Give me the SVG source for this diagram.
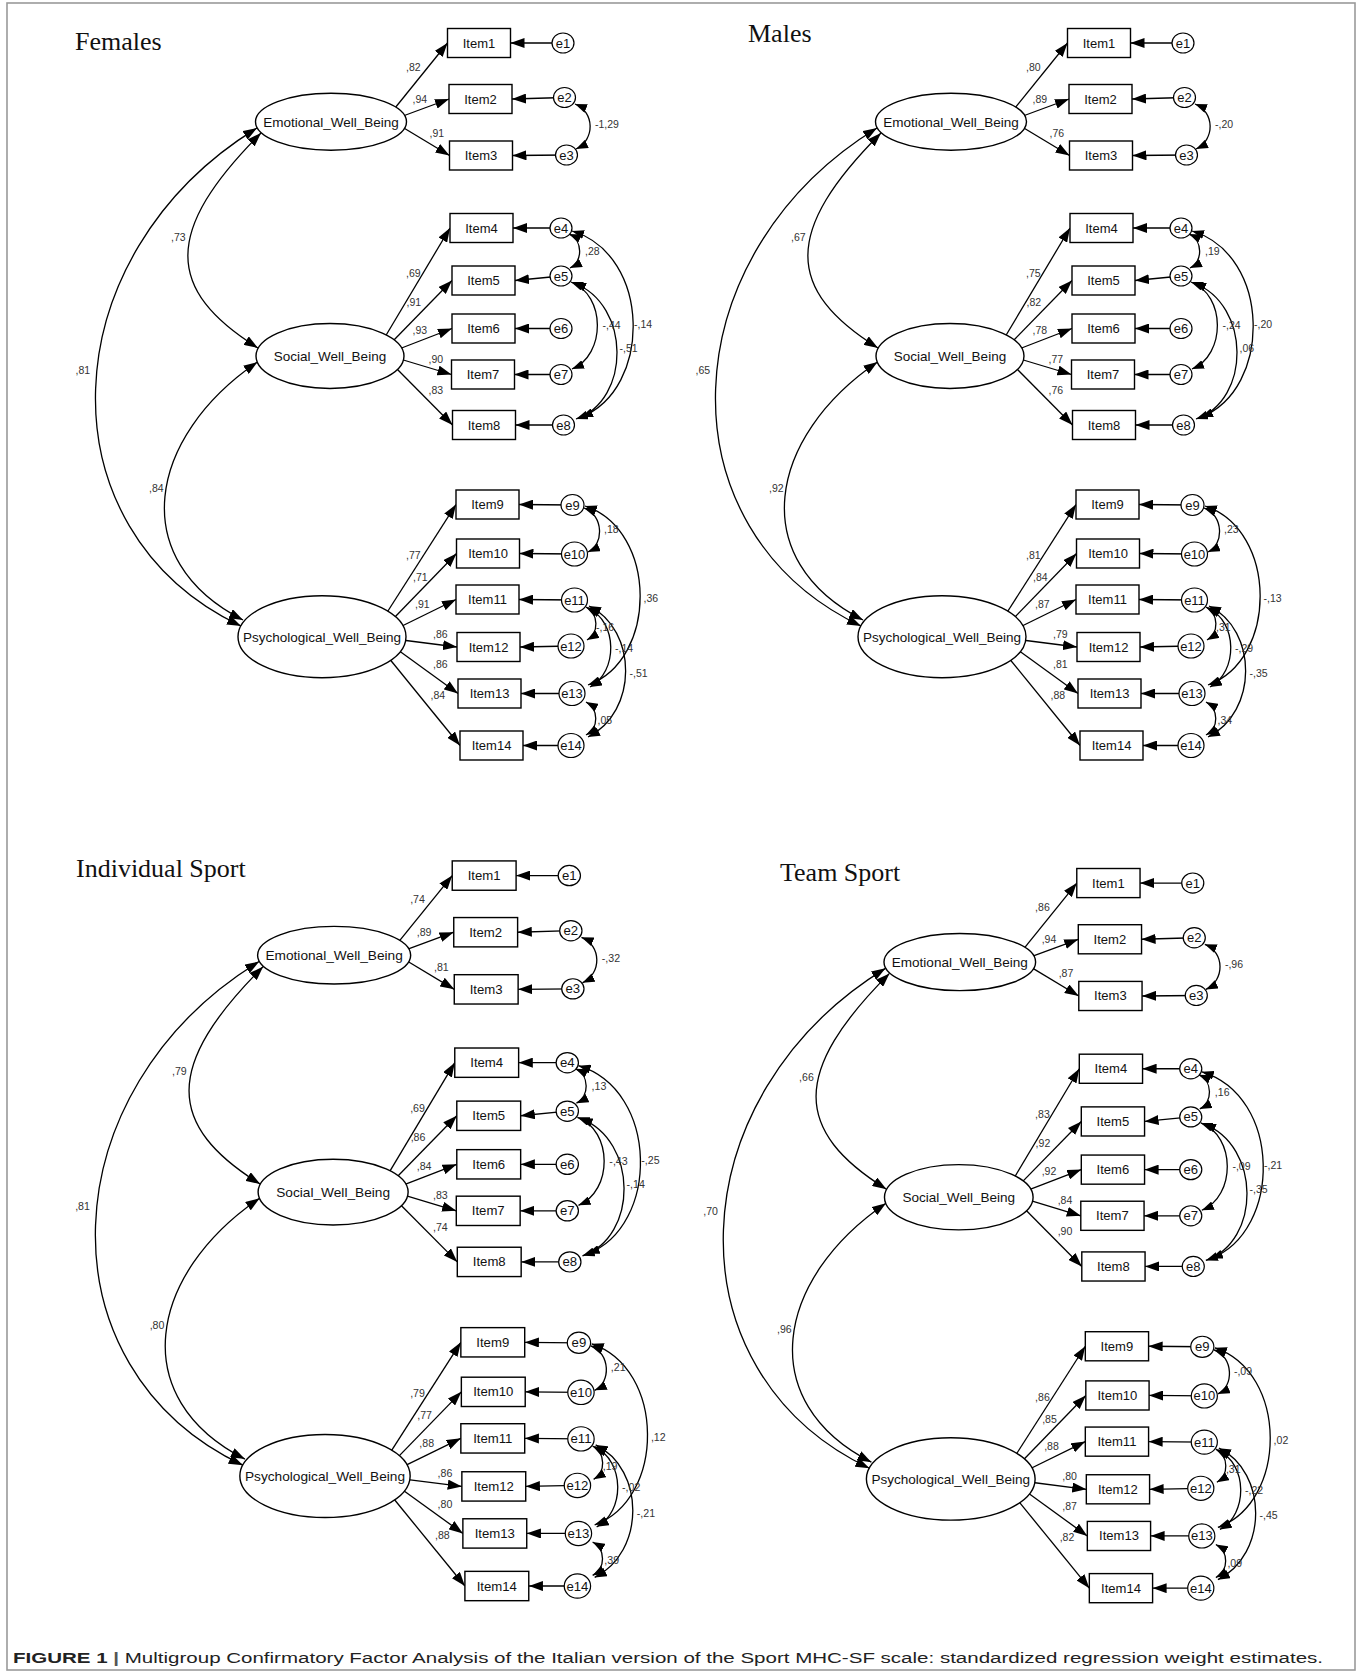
<svg xmlns="http://www.w3.org/2000/svg" width="1363" height="1673" viewBox="0 0 1363 1673">
<defs>
<marker id="ah" viewBox="0 0 14 10" refX="14" refY="5" markerWidth="14" markerHeight="10" markerUnits="userSpaceOnUse" orient="auto-start-reverse"><path d="M0,0 L14,5 L0,10 z" fill="#000"/></marker>
<marker id="ahs" viewBox="0 0 12 9" refX="12" refY="4.5" markerWidth="12" markerHeight="9" markerUnits="userSpaceOnUse" orient="auto-start-reverse"><path d="M0,0 L12,4.5 L0,9 z" fill="#000"/></marker>
</defs>
<style>
.frame{fill:none;stroke:#9a9a9a;stroke-width:1.6}
.title{font-family:"Liberation Serif","Times New Roman",serif;font-size:26px;fill:#111}
.box{fill:#fff;stroke:#000;stroke-width:1.4}
.lat{fill:#fff;stroke:#000;stroke-width:1.4}
.err{fill:#fff;stroke:#000;stroke-width:1.2}
.nt{font-family:"Liberation Sans",Arial,sans-serif;font-size:13px;text-anchor:middle;fill:#111}
.lt{font-family:"Liberation Sans",Arial,sans-serif;font-size:13.5px;text-anchor:middle;fill:#111}
.w{font-family:"Liberation Sans",Arial,sans-serif;font-size:10.5px;fill:#333}
.ld{fill:none;stroke:#000;stroke-width:1.3;marker-end:url(#ah)}
.cv{fill:none;stroke:#000;stroke-width:1.3;marker-start:url(#ah);marker-end:url(#ah)}
.cvs{fill:none;stroke:#000;stroke-width:1.3;marker-start:url(#ahs);marker-end:url(#ahs)}
.cap{font-family:"Liberation Sans",Arial,sans-serif;font-size:14px;fill:#222}
</style>
<rect width="1363" height="1673" fill="#fff"/>
<rect class="frame" x="7" y="3" width="1348" height="1667"/>

<text class="title" x="75" y="50">Females</text>
<text class="title" x="748" y="42">Males</text>
<text class="title" x="76" y="877">Individual Sport</text>
<text class="title" x="780" y="881">Team Sport</text>

<!-- ================= FEMALES ================= -->
<g id="panel-females">
<g id="f-connectors">
<line class="ld" x1="395" y1="108" x2="447.5" y2="43"/>
<line class="ld" x1="403" y1="116" x2="449" y2="99"/>
<line class="ld" x1="403" y1="127.5" x2="449.5" y2="155.5"/>
<line class="ld" x1="385" y1="337" x2="450" y2="228"/>
<line class="ld" x1="392" y1="342" x2="452" y2="280.5"/>
<line class="ld" x1="399" y1="349" x2="452" y2="328.5"/>
<line class="ld" x1="400" y1="359" x2="451.5" y2="374.5"/>
<line class="ld" x1="395" y1="367" x2="452.5" y2="425"/>
<line class="ld" x1="386" y1="614" x2="456" y2="504.5"/>
<line class="ld" x1="393" y1="619" x2="456.5" y2="553.5"/>
<line class="ld" x1="400" y1="627" x2="456" y2="599.5"/>
<line class="ld" x1="402" y1="640" x2="457" y2="647"/>
<line class="ld" x1="398" y1="650" x2="458" y2="693.5"/>
<line class="ld" x1="388" y1="657" x2="460" y2="745.5"/>
<line class="ld" x1="563" y1="43" x2="510.5" y2="43"/>
<line class="ld" x1="564.5" y1="97.5" x2="512" y2="99"/>
<line class="ld" x1="566.5" y1="155" x2="512.5" y2="155.5"/>
<line class="ld" x1="561" y1="228" x2="513" y2="228"/>
<line class="ld" x1="561" y1="276" x2="515" y2="280.5"/>
<line class="ld" x1="561" y1="328.5" x2="515" y2="328.5"/>
<line class="ld" x1="561" y1="374.5" x2="514.5" y2="374.5"/>
<line class="ld" x1="563.5" y1="425" x2="515.5" y2="425"/>
<line class="ld" x1="572.5" y1="505" x2="519" y2="504.5"/>
<line class="ld" x1="574.5" y1="554" x2="519.5" y2="553.5"/>
<line class="ld" x1="574.5" y1="600" x2="519" y2="599.5"/>
<line class="ld" x1="571" y1="646" x2="520" y2="647"/>
<line class="ld" x1="572" y1="693.5" x2="521" y2="693.5"/>
<line class="ld" x1="571" y1="745.5" x2="523" y2="745.5"/>
<path class="cv" d="M257,128C50,255 39,530 241,626"/>
<path class="cv" d="M261,133C163,231 165,290 258,348"/>
<path class="cv" d="M257.5,362C147.5,437 125.5,560 243,620"/>
<path class="cvs" d="M575,104C595,112 595,140 576,149"/>
<path class="cvs" d="M569,234C583,240 583,262 570,268"/>
<path class="cvs" d="M571,282C606,295 606,355 572,369"/>
<path class="cvs" d="M574,283C631,305 631,400 576,419"/>
<path class="cvs" d="M572,231C652,255 652,390 581,417"/>
<path class="cvs" d="M584,508C604,515 604,545 588,552"/>
<path class="cvs" d="M585,506C658,530 658,660 588,685"/>
<path class="cvs" d="M586,607C599,614 599,633 587,640"/>
<path class="cvs" d="M588,608C618,622 618,672 590,687"/>
<path class="cvs" d="M589,606C638,630 638,712 588,737"/>
<path class="cvs" d="M586,702C599,709 599,728 586,735"/>
</g>
<g id="f-emotional"><ellipse class="lat" cx="331" cy="121.7" rx="75.5" ry="28.5"/><text class="lt" x="331" y="126.5">Emotional_Well_Being</text></g>
<g id="f-social"><ellipse class="lat" cx="330" cy="356" rx="74" ry="32.5"/><text class="lt" x="330" y="361">Social_Well_Being</text></g>
<g id="f-psychological"><ellipse class="lat" cx="322" cy="636.7" rx="84" ry="41"/><text class="lt" x="322" y="641.5">Psychological_Well_Being</text></g>
<g id="f-item1"><rect class="box" x="447.5" y="28.5" width="63" height="29"/><text class="nt" x="479" y="47.5">Item1</text></g>
<g id="f-item2"><rect class="box" x="449" y="84.5" width="63" height="29"/><text class="nt" x="480.5" y="103.5">Item2</text></g>
<g id="f-item3"><rect class="box" x="449.5" y="141" width="63" height="29"/><text class="nt" x="481" y="160">Item3</text></g>
<g id="f-item4"><rect class="box" x="450" y="213.5" width="63" height="29"/><text class="nt" x="481.5" y="232.5">Item4</text></g>
<g id="f-item5"><rect class="box" x="452" y="266" width="63" height="29"/><text class="nt" x="483.5" y="285">Item5</text></g>
<g id="f-item6"><rect class="box" x="452" y="314" width="63" height="29"/><text class="nt" x="483.5" y="333">Item6</text></g>
<g id="f-item7"><rect class="box" x="451.5" y="360" width="63" height="29"/><text class="nt" x="483" y="379">Item7</text></g>
<g id="f-item8"><rect class="box" x="452.5" y="410.5" width="63" height="29"/><text class="nt" x="484" y="429.5">Item8</text></g>
<g id="f-item9"><rect class="box" x="456" y="490" width="63" height="29"/><text class="nt" x="487.5" y="509">Item9</text></g>
<g id="f-item10"><rect class="box" x="456.5" y="539" width="63" height="29"/><text class="nt" x="488" y="558">Item10</text></g>
<g id="f-item11"><rect class="box" x="456" y="585" width="63" height="29"/><text class="nt" x="487.5" y="604">Item11</text></g>
<g id="f-item12"><rect class="box" x="457" y="632.5" width="63" height="29"/><text class="nt" x="488.5" y="651.5">Item12</text></g>
<g id="f-item13"><rect class="box" x="458" y="679" width="63" height="29"/><text class="nt" x="489.5" y="698">Item13</text></g>
<g id="f-item14"><rect class="box" x="460" y="731" width="63" height="29"/><text class="nt" x="491.5" y="750">Item14</text></g>
<g id="f-e1"><ellipse class="err" cx="563" cy="43" rx="11" ry="10"/><text class="nt" x="563" y="47.5">e1</text></g>
<g id="f-e2"><ellipse class="err" cx="564.5" cy="97.5" rx="11" ry="10"/><text class="nt" x="564.5" y="102">e2</text></g>
<g id="f-e3"><ellipse class="err" cx="566.5" cy="155" rx="11" ry="10"/><text class="nt" x="566.5" y="159.5">e3</text></g>
<g id="f-e4"><ellipse class="err" cx="561" cy="228" rx="11" ry="10"/><text class="nt" x="561" y="232.5">e4</text></g>
<g id="f-e5"><ellipse class="err" cx="561" cy="276" rx="11" ry="10"/><text class="nt" x="561" y="280.5">e5</text></g>
<g id="f-e6"><ellipse class="err" cx="561" cy="328.5" rx="11" ry="10"/><text class="nt" x="561" y="333">e6</text></g>
<g id="f-e7"><ellipse class="err" cx="561" cy="374.5" rx="11" ry="10"/><text class="nt" x="561" y="379">e7</text></g>
<g id="f-e8"><ellipse class="err" cx="563.5" cy="425" rx="11" ry="10"/><text class="nt" x="563.5" y="429.5">e8</text></g>
<g id="f-e9"><ellipse class="err" cx="572.5" cy="505" rx="11.5" ry="10.5"/><text class="nt" x="572.5" y="509.5">e9</text></g>
<g id="f-e10"><ellipse class="err" cx="574.5" cy="554" rx="13" ry="12"/><text class="nt" x="574.5" y="558.5">e10</text></g>
<g id="f-e11"><ellipse class="err" cx="574.5" cy="600" rx="13" ry="12"/><text class="nt" x="574.5" y="604.5">e11</text></g>
<g id="f-e12"><ellipse class="err" cx="571" cy="646" rx="13" ry="12"/><text class="nt" x="571" y="650.5">e12</text></g>
<g id="f-e13"><ellipse class="err" cx="572" cy="693.5" rx="13" ry="12"/><text class="nt" x="572" y="698">e13</text></g>
<g id="f-e14"><ellipse class="err" cx="571" cy="745.5" rx="13" ry="12"/><text class="nt" x="571" y="750">e14</text></g>
<g id="f-labels">
<text class="w" x="406" y="70.5">,82</text><text class="w" x="412.5" y="103">,94</text><text class="w" x="429.5" y="137">,91</text>
<text class="w" x="406" y="277">,69</text><text class="w" x="406.5" y="305.5">,91</text><text class="w" x="412.5" y="334">,93</text><text class="w" x="428.5" y="363">,90</text><text class="w" x="428.5" y="394">,83</text>
<text class="w" x="406" y="559">,77</text><text class="w" x="413" y="580.5">,71</text><text class="w" x="415" y="608">,91</text><text class="w" x="433" y="638">,86</text><text class="w" x="433" y="668">,86</text><text class="w" x="430.5" y="699">,84</text>
<text class="w" x="75.5" y="374">,81</text><text class="w" x="171" y="240.5">,73</text><text class="w" x="149" y="491.5">,84</text>
<text class="w" x="595" y="128">-1,29</text><text class="w" x="585" y="255">,28</text><text class="w" x="602.5" y="329">-,44</text><text class="w" x="619.5" y="352">-,51</text><text class="w" x="634" y="328">-,14</text>
<text class="w" x="604" y="533">,18</text><text class="w" x="643.5" y="602">,36</text><text class="w" x="596" y="630.5">-,16</text><text class="w" x="615" y="652">-,14</text><text class="w" x="629.5" y="677">-,51</text><text class="w" x="597.5" y="724">,05</text>
</g>
</g>

<!-- ================= MALES ================= -->
<g id="panel-males" transform="translate(620,0)">
<g id="m-connectors">
<line class="ld" x1="395" y1="108" x2="447.5" y2="43"/>
<line class="ld" x1="403" y1="116" x2="449" y2="99"/>
<line class="ld" x1="403" y1="127.5" x2="449.5" y2="155.5"/>
<line class="ld" x1="385" y1="337" x2="450" y2="228"/>
<line class="ld" x1="392" y1="342" x2="452" y2="280.5"/>
<line class="ld" x1="399" y1="349" x2="452" y2="328.5"/>
<line class="ld" x1="400" y1="359" x2="451.5" y2="374.5"/>
<line class="ld" x1="395" y1="367" x2="452.5" y2="425"/>
<line class="ld" x1="386" y1="614" x2="456" y2="504.5"/>
<line class="ld" x1="393" y1="619" x2="456.5" y2="553.5"/>
<line class="ld" x1="400" y1="627" x2="456" y2="599.5"/>
<line class="ld" x1="402" y1="640" x2="457" y2="647"/>
<line class="ld" x1="398" y1="650" x2="458" y2="693.5"/>
<line class="ld" x1="388" y1="657" x2="460" y2="745.5"/>
<line class="ld" x1="563" y1="43" x2="510.5" y2="43"/>
<line class="ld" x1="564.5" y1="97.5" x2="512" y2="99"/>
<line class="ld" x1="566.5" y1="155" x2="512.5" y2="155.5"/>
<line class="ld" x1="561" y1="228" x2="513" y2="228"/>
<line class="ld" x1="561" y1="276" x2="515" y2="280.5"/>
<line class="ld" x1="561" y1="328.5" x2="515" y2="328.5"/>
<line class="ld" x1="561" y1="374.5" x2="514.5" y2="374.5"/>
<line class="ld" x1="563.5" y1="425" x2="515.5" y2="425"/>
<line class="ld" x1="572.5" y1="505" x2="519" y2="504.5"/>
<line class="ld" x1="574.5" y1="554" x2="519.5" y2="553.5"/>
<line class="ld" x1="574.5" y1="600" x2="519" y2="599.5"/>
<line class="ld" x1="571" y1="646" x2="520" y2="647"/>
<line class="ld" x1="572" y1="693.5" x2="521" y2="693.5"/>
<line class="ld" x1="571" y1="745.5" x2="523" y2="745.5"/>
<path class="cv" d="M257,128C50,255 39,530 241,626"/>
<path class="cv" d="M261,133C163,231 165,290 258,348"/>
<path class="cv" d="M257.5,362C147.5,437 125.5,560 243,620"/>
<path class="cvs" d="M575,104C595,112 595,140 576,149"/>
<path class="cvs" d="M569,234C583,240 583,262 570,268"/>
<path class="cvs" d="M571,282C606,295 606,355 572,369"/>
<path class="cvs" d="M574,283C631,305 631,400 576,419"/>
<path class="cvs" d="M572,231C652,255 652,390 581,417"/>
<path class="cvs" d="M584,508C604,515 604,545 588,552"/>
<path class="cvs" d="M585,506C658,530 658,660 588,685"/>
<path class="cvs" d="M586,607C599,614 599,633 587,640"/>
<path class="cvs" d="M588,608C618,622 618,672 590,687"/>
<path class="cvs" d="M589,606C638,630 638,712 588,737"/>
<path class="cvs" d="M586,702C599,709 599,728 586,735"/>
</g>
<g id="m-emotional"><ellipse class="lat" cx="331" cy="121.7" rx="75.5" ry="28.5"/><text class="lt" x="331" y="126.5">Emotional_Well_Being</text></g>
<g id="m-social"><ellipse class="lat" cx="330" cy="356" rx="74" ry="32.5"/><text class="lt" x="330" y="361">Social_Well_Being</text></g>
<g id="m-psychological"><ellipse class="lat" cx="322" cy="636.7" rx="84" ry="41"/><text class="lt" x="322" y="641.5">Psychological_Well_Being</text></g>
<g id="m-item1"><rect class="box" x="447.5" y="28.5" width="63" height="29"/><text class="nt" x="479" y="47.5">Item1</text></g>
<g id="m-item2"><rect class="box" x="449" y="84.5" width="63" height="29"/><text class="nt" x="480.5" y="103.5">Item2</text></g>
<g id="m-item3"><rect class="box" x="449.5" y="141" width="63" height="29"/><text class="nt" x="481" y="160">Item3</text></g>
<g id="m-item4"><rect class="box" x="450" y="213.5" width="63" height="29"/><text class="nt" x="481.5" y="232.5">Item4</text></g>
<g id="m-item5"><rect class="box" x="452" y="266" width="63" height="29"/><text class="nt" x="483.5" y="285">Item5</text></g>
<g id="m-item6"><rect class="box" x="452" y="314" width="63" height="29"/><text class="nt" x="483.5" y="333">Item6</text></g>
<g id="m-item7"><rect class="box" x="451.5" y="360" width="63" height="29"/><text class="nt" x="483" y="379">Item7</text></g>
<g id="m-item8"><rect class="box" x="452.5" y="410.5" width="63" height="29"/><text class="nt" x="484" y="429.5">Item8</text></g>
<g id="m-item9"><rect class="box" x="456" y="490" width="63" height="29"/><text class="nt" x="487.5" y="509">Item9</text></g>
<g id="m-item10"><rect class="box" x="456.5" y="539" width="63" height="29"/><text class="nt" x="488" y="558">Item10</text></g>
<g id="m-item11"><rect class="box" x="456" y="585" width="63" height="29"/><text class="nt" x="487.5" y="604">Item11</text></g>
<g id="m-item12"><rect class="box" x="457" y="632.5" width="63" height="29"/><text class="nt" x="488.5" y="651.5">Item12</text></g>
<g id="m-item13"><rect class="box" x="458" y="679" width="63" height="29"/><text class="nt" x="489.5" y="698">Item13</text></g>
<g id="m-item14"><rect class="box" x="460" y="731" width="63" height="29"/><text class="nt" x="491.5" y="750">Item14</text></g>
<g id="m-e1"><ellipse class="err" cx="563" cy="43" rx="11" ry="10"/><text class="nt" x="563" y="47.5">e1</text></g>
<g id="m-e2"><ellipse class="err" cx="564.5" cy="97.5" rx="11" ry="10"/><text class="nt" x="564.5" y="102">e2</text></g>
<g id="m-e3"><ellipse class="err" cx="566.5" cy="155" rx="11" ry="10"/><text class="nt" x="566.5" y="159.5">e3</text></g>
<g id="m-e4"><ellipse class="err" cx="561" cy="228" rx="11" ry="10"/><text class="nt" x="561" y="232.5">e4</text></g>
<g id="m-e5"><ellipse class="err" cx="561" cy="276" rx="11" ry="10"/><text class="nt" x="561" y="280.5">e5</text></g>
<g id="m-e6"><ellipse class="err" cx="561" cy="328.5" rx="11" ry="10"/><text class="nt" x="561" y="333">e6</text></g>
<g id="m-e7"><ellipse class="err" cx="561" cy="374.5" rx="11" ry="10"/><text class="nt" x="561" y="379">e7</text></g>
<g id="m-e8"><ellipse class="err" cx="563.5" cy="425" rx="11" ry="10"/><text class="nt" x="563.5" y="429.5">e8</text></g>
<g id="m-e9"><ellipse class="err" cx="572.5" cy="505" rx="11.5" ry="10.5"/><text class="nt" x="572.5" y="509.5">e9</text></g>
<g id="m-e10"><ellipse class="err" cx="574.5" cy="554" rx="13" ry="12"/><text class="nt" x="574.5" y="558.5">e10</text></g>
<g id="m-e11"><ellipse class="err" cx="574.5" cy="600" rx="13" ry="12"/><text class="nt" x="574.5" y="604.5">e11</text></g>
<g id="m-e12"><ellipse class="err" cx="571" cy="646" rx="13" ry="12"/><text class="nt" x="571" y="650.5">e12</text></g>
<g id="m-e13"><ellipse class="err" cx="572" cy="693.5" rx="13" ry="12"/><text class="nt" x="572" y="698">e13</text></g>
<g id="m-e14"><ellipse class="err" cx="571" cy="745.5" rx="13" ry="12"/><text class="nt" x="571" y="750">e14</text></g>
<g id="m-labels">
<text class="w" x="406" y="70.5">,80</text><text class="w" x="412.5" y="103">,89</text><text class="w" x="429.5" y="137">,76</text>
<text class="w" x="406" y="277">,75</text><text class="w" x="406.5" y="305.5">,82</text><text class="w" x="412.5" y="334">,78</text><text class="w" x="428.5" y="363">,77</text><text class="w" x="428.5" y="394">,76</text>
<text class="w" x="406" y="559">,81</text><text class="w" x="413" y="580.5">,84</text><text class="w" x="415" y="608">,87</text><text class="w" x="433" y="638">,79</text><text class="w" x="433" y="668">,81</text><text class="w" x="430.5" y="699">,88</text>
<text class="w" x="75.5" y="374">,65</text><text class="w" x="171" y="240.5">,67</text><text class="w" x="149" y="491.5">,92</text>
<text class="w" x="595" y="128">-,20</text><text class="w" x="585" y="255">,19</text><text class="w" x="602.5" y="329">-,24</text><text class="w" x="619.5" y="352">,06</text><text class="w" x="634" y="328">-,20</text>
<text class="w" x="604" y="533">,23</text><text class="w" x="643.5" y="602">-,13</text><text class="w" x="596" y="630.5">,31</text><text class="w" x="615" y="652">-,29</text><text class="w" x="629.5" y="677">-,35</text><text class="w" x="597.5" y="724">,34</text>
</g>
</g>

<!-- ================= INDIVIDUAL SPORT ================= -->
<g id="panel-individual" transform="translate(-1.4,832.1) scale(1.0137,1.0113)">
<g id="i-connectors">
<line class="ld" x1="395" y1="108" x2="447.5" y2="43"/>
<line class="ld" x1="403" y1="116" x2="449" y2="99"/>
<line class="ld" x1="403" y1="127.5" x2="449.5" y2="155.5"/>
<line class="ld" x1="385" y1="337" x2="450" y2="228"/>
<line class="ld" x1="392" y1="342" x2="452" y2="280.5"/>
<line class="ld" x1="399" y1="349" x2="452" y2="328.5"/>
<line class="ld" x1="400" y1="359" x2="451.5" y2="374.5"/>
<line class="ld" x1="395" y1="367" x2="452.5" y2="425"/>
<line class="ld" x1="386" y1="614" x2="456" y2="504.5"/>
<line class="ld" x1="393" y1="619" x2="456.5" y2="553.5"/>
<line class="ld" x1="400" y1="627" x2="456" y2="599.5"/>
<line class="ld" x1="402" y1="640" x2="457" y2="647"/>
<line class="ld" x1="398" y1="650" x2="458" y2="693.5"/>
<line class="ld" x1="388" y1="657" x2="460" y2="745.5"/>
<line class="ld" x1="563" y1="43" x2="510.5" y2="43"/>
<line class="ld" x1="564.5" y1="97.5" x2="512" y2="99"/>
<line class="ld" x1="566.5" y1="155" x2="512.5" y2="155.5"/>
<line class="ld" x1="561" y1="228" x2="513" y2="228"/>
<line class="ld" x1="561" y1="276" x2="515" y2="280.5"/>
<line class="ld" x1="561" y1="328.5" x2="515" y2="328.5"/>
<line class="ld" x1="561" y1="374.5" x2="514.5" y2="374.5"/>
<line class="ld" x1="563.5" y1="425" x2="515.5" y2="425"/>
<line class="ld" x1="572.5" y1="505" x2="519" y2="504.5"/>
<line class="ld" x1="574.5" y1="554" x2="519.5" y2="553.5"/>
<line class="ld" x1="574.5" y1="600" x2="519" y2="599.5"/>
<line class="ld" x1="571" y1="646" x2="520" y2="647"/>
<line class="ld" x1="572" y1="693.5" x2="521" y2="693.5"/>
<line class="ld" x1="571" y1="745.5" x2="523" y2="745.5"/>
<path class="cv" d="M257,128C50,255 39,530 241,626"/>
<path class="cv" d="M261,133C163,231 165,290 258,348"/>
<path class="cv" d="M257.5,362C147.5,437 125.5,560 243,620"/>
<path class="cvs" d="M575,104C595,112 595,140 576,149"/>
<path class="cvs" d="M569,234C583,240 583,262 570,268"/>
<path class="cvs" d="M571,282C606,295 606,355 572,369"/>
<path class="cvs" d="M574,283C631,305 631,400 576,419"/>
<path class="cvs" d="M572,231C652,255 652,390 581,417"/>
<path class="cvs" d="M584,508C604,515 604,545 588,552"/>
<path class="cvs" d="M585,506C658,530 658,660 588,685"/>
<path class="cvs" d="M586,607C599,614 599,633 587,640"/>
<path class="cvs" d="M588,608C618,622 618,672 590,687"/>
<path class="cvs" d="M589,606C638,630 638,712 588,737"/>
<path class="cvs" d="M586,702C599,709 599,728 586,735"/>
</g>
<g id="i-emotional"><ellipse class="lat" cx="331" cy="121.7" rx="75.5" ry="28.5"/><text class="lt" x="331" y="126.5">Emotional_Well_Being</text></g>
<g id="i-social"><ellipse class="lat" cx="330" cy="356" rx="74" ry="32.5"/><text class="lt" x="330" y="361">Social_Well_Being</text></g>
<g id="i-psychological"><ellipse class="lat" cx="322" cy="636.7" rx="84" ry="41"/><text class="lt" x="322" y="641.5">Psychological_Well_Being</text></g>
<g id="i-item1"><rect class="box" x="447.5" y="28.5" width="63" height="29"/><text class="nt" x="479" y="47.5">Item1</text></g>
<g id="i-item2"><rect class="box" x="449" y="84.5" width="63" height="29"/><text class="nt" x="480.5" y="103.5">Item2</text></g>
<g id="i-item3"><rect class="box" x="449.5" y="141" width="63" height="29"/><text class="nt" x="481" y="160">Item3</text></g>
<g id="i-item4"><rect class="box" x="450" y="213.5" width="63" height="29"/><text class="nt" x="481.5" y="232.5">Item4</text></g>
<g id="i-item5"><rect class="box" x="452" y="266" width="63" height="29"/><text class="nt" x="483.5" y="285">Item5</text></g>
<g id="i-item6"><rect class="box" x="452" y="314" width="63" height="29"/><text class="nt" x="483.5" y="333">Item6</text></g>
<g id="i-item7"><rect class="box" x="451.5" y="360" width="63" height="29"/><text class="nt" x="483" y="379">Item7</text></g>
<g id="i-item8"><rect class="box" x="452.5" y="410.5" width="63" height="29"/><text class="nt" x="484" y="429.5">Item8</text></g>
<g id="i-item9"><rect class="box" x="456" y="490" width="63" height="29"/><text class="nt" x="487.5" y="509">Item9</text></g>
<g id="i-item10"><rect class="box" x="456.5" y="539" width="63" height="29"/><text class="nt" x="488" y="558">Item10</text></g>
<g id="i-item11"><rect class="box" x="456" y="585" width="63" height="29"/><text class="nt" x="487.5" y="604">Item11</text></g>
<g id="i-item12"><rect class="box" x="457" y="632.5" width="63" height="29"/><text class="nt" x="488.5" y="651.5">Item12</text></g>
<g id="i-item13"><rect class="box" x="458" y="679" width="63" height="29"/><text class="nt" x="489.5" y="698">Item13</text></g>
<g id="i-item14"><rect class="box" x="460" y="731" width="63" height="29"/><text class="nt" x="491.5" y="750">Item14</text></g>
<g id="i-e1"><ellipse class="err" cx="563" cy="43" rx="11" ry="10"/><text class="nt" x="563" y="47.5">e1</text></g>
<g id="i-e2"><ellipse class="err" cx="564.5" cy="97.5" rx="11" ry="10"/><text class="nt" x="564.5" y="102">e2</text></g>
<g id="i-e3"><ellipse class="err" cx="566.5" cy="155" rx="11" ry="10"/><text class="nt" x="566.5" y="159.5">e3</text></g>
<g id="i-e4"><ellipse class="err" cx="561" cy="228" rx="11" ry="10"/><text class="nt" x="561" y="232.5">e4</text></g>
<g id="i-e5"><ellipse class="err" cx="561" cy="276" rx="11" ry="10"/><text class="nt" x="561" y="280.5">e5</text></g>
<g id="i-e6"><ellipse class="err" cx="561" cy="328.5" rx="11" ry="10"/><text class="nt" x="561" y="333">e6</text></g>
<g id="i-e7"><ellipse class="err" cx="561" cy="374.5" rx="11" ry="10"/><text class="nt" x="561" y="379">e7</text></g>
<g id="i-e8"><ellipse class="err" cx="563.5" cy="425" rx="11" ry="10"/><text class="nt" x="563.5" y="429.5">e8</text></g>
<g id="i-e9"><ellipse class="err" cx="572.5" cy="505" rx="11.5" ry="10.5"/><text class="nt" x="572.5" y="509.5">e9</text></g>
<g id="i-e10"><ellipse class="err" cx="574.5" cy="554" rx="13" ry="12"/><text class="nt" x="574.5" y="558.5">e10</text></g>
<g id="i-e11"><ellipse class="err" cx="574.5" cy="600" rx="13" ry="12"/><text class="nt" x="574.5" y="604.5">e11</text></g>
<g id="i-e12"><ellipse class="err" cx="571" cy="646" rx="13" ry="12"/><text class="nt" x="571" y="650.5">e12</text></g>
<g id="i-e13"><ellipse class="err" cx="572" cy="693.5" rx="13" ry="12"/><text class="nt" x="572" y="698">e13</text></g>
<g id="i-e14"><ellipse class="err" cx="571" cy="745.5" rx="13" ry="12"/><text class="nt" x="571" y="750">e14</text></g>
<g id="i-labels">
<text class="w" x="406" y="70.5">,74</text><text class="w" x="412.5" y="103">,89</text><text class="w" x="429.5" y="137">,81</text>
<text class="w" x="406" y="277">,69</text><text class="w" x="406.5" y="305.5">,86</text><text class="w" x="412.5" y="334">,84</text><text class="w" x="428.5" y="363">,83</text><text class="w" x="428.5" y="394">,74</text>
<text class="w" x="406" y="559">,79</text><text class="w" x="413" y="580.5">,77</text><text class="w" x="415" y="608">,88</text><text class="w" x="433" y="638">,86</text><text class="w" x="433" y="668">,80</text><text class="w" x="430.5" y="699">,88</text>
<text class="w" x="75.5" y="374">,81</text><text class="w" x="171" y="240.5">,79</text><text class="w" x="149" y="491.5">,80</text>
<text class="w" x="595" y="128">-,32</text><text class="w" x="585" y="255">,13</text><text class="w" x="602.5" y="329">-,43</text><text class="w" x="619.5" y="352">-,14</text><text class="w" x="634" y="328">-,25</text>
<text class="w" x="604" y="533">,21</text><text class="w" x="643.5" y="602">,12</text><text class="w" x="596" y="630.5">,19</text><text class="w" x="615" y="652">-,02</text><text class="w" x="629.5" y="677">-,21</text><text class="w" x="597.5" y="724">,39</text>
</g>
</g>

<!-- ================= TEAM SPORT ================= -->
<g id="panel-team" transform="translate(627.4,839.9) scale(1.0042,1.0037)">
<g id="t-connectors">
<line class="ld" x1="395" y1="108" x2="447.5" y2="43"/>
<line class="ld" x1="403" y1="116" x2="449" y2="99"/>
<line class="ld" x1="403" y1="127.5" x2="449.5" y2="155.5"/>
<line class="ld" x1="385" y1="337" x2="450" y2="228"/>
<line class="ld" x1="392" y1="342" x2="452" y2="280.5"/>
<line class="ld" x1="399" y1="349" x2="452" y2="328.5"/>
<line class="ld" x1="400" y1="359" x2="451.5" y2="374.5"/>
<line class="ld" x1="395" y1="367" x2="452.5" y2="425"/>
<line class="ld" x1="386" y1="614" x2="456" y2="504.5"/>
<line class="ld" x1="393" y1="619" x2="456.5" y2="553.5"/>
<line class="ld" x1="400" y1="627" x2="456" y2="599.5"/>
<line class="ld" x1="402" y1="640" x2="457" y2="647"/>
<line class="ld" x1="398" y1="650" x2="458" y2="693.5"/>
<line class="ld" x1="388" y1="657" x2="460" y2="745.5"/>
<line class="ld" x1="563" y1="43" x2="510.5" y2="43"/>
<line class="ld" x1="564.5" y1="97.5" x2="512" y2="99"/>
<line class="ld" x1="566.5" y1="155" x2="512.5" y2="155.5"/>
<line class="ld" x1="561" y1="228" x2="513" y2="228"/>
<line class="ld" x1="561" y1="276" x2="515" y2="280.5"/>
<line class="ld" x1="561" y1="328.5" x2="515" y2="328.5"/>
<line class="ld" x1="561" y1="374.5" x2="514.5" y2="374.5"/>
<line class="ld" x1="563.5" y1="425" x2="515.5" y2="425"/>
<line class="ld" x1="572.5" y1="505" x2="519" y2="504.5"/>
<line class="ld" x1="574.5" y1="554" x2="519.5" y2="553.5"/>
<line class="ld" x1="574.5" y1="600" x2="519" y2="599.5"/>
<line class="ld" x1="571" y1="646" x2="520" y2="647"/>
<line class="ld" x1="572" y1="693.5" x2="521" y2="693.5"/>
<line class="ld" x1="571" y1="745.5" x2="523" y2="745.5"/>
<path class="cv" d="M257,128C50,255 39,530 241,626"/>
<path class="cv" d="M261,133C163,231 165,290 258,348"/>
<path class="cv" d="M257.5,362C147.5,437 125.5,560 243,620"/>
<path class="cvs" d="M575,104C595,112 595,140 576,149"/>
<path class="cvs" d="M569,234C583,240 583,262 570,268"/>
<path class="cvs" d="M571,282C606,295 606,355 572,369"/>
<path class="cvs" d="M574,283C631,305 631,400 576,419"/>
<path class="cvs" d="M572,231C652,255 652,390 581,417"/>
<path class="cvs" d="M584,508C604,515 604,545 588,552"/>
<path class="cvs" d="M585,506C658,530 658,660 588,685"/>
<path class="cvs" d="M586,607C599,614 599,633 587,640"/>
<path class="cvs" d="M588,608C618,622 618,672 590,687"/>
<path class="cvs" d="M589,606C638,630 638,712 588,737"/>
<path class="cvs" d="M586,702C599,709 599,728 586,735"/>
</g>
<g id="t-emotional"><ellipse class="lat" cx="331" cy="121.7" rx="75.5" ry="28.5"/><text class="lt" x="331" y="126.5">Emotional_Well_Being</text></g>
<g id="t-social"><ellipse class="lat" cx="330" cy="356" rx="74" ry="32.5"/><text class="lt" x="330" y="361">Social_Well_Being</text></g>
<g id="t-psychological"><ellipse class="lat" cx="322" cy="636.7" rx="84" ry="41"/><text class="lt" x="322" y="641.5">Psychological_Well_Being</text></g>
<g id="t-item1"><rect class="box" x="447.5" y="28.5" width="63" height="29"/><text class="nt" x="479" y="47.5">Item1</text></g>
<g id="t-item2"><rect class="box" x="449" y="84.5" width="63" height="29"/><text class="nt" x="480.5" y="103.5">Item2</text></g>
<g id="t-item3"><rect class="box" x="449.5" y="141" width="63" height="29"/><text class="nt" x="481" y="160">Item3</text></g>
<g id="t-item4"><rect class="box" x="450" y="213.5" width="63" height="29"/><text class="nt" x="481.5" y="232.5">Item4</text></g>
<g id="t-item5"><rect class="box" x="452" y="266" width="63" height="29"/><text class="nt" x="483.5" y="285">Item5</text></g>
<g id="t-item6"><rect class="box" x="452" y="314" width="63" height="29"/><text class="nt" x="483.5" y="333">Item6</text></g>
<g id="t-item7"><rect class="box" x="451.5" y="360" width="63" height="29"/><text class="nt" x="483" y="379">Item7</text></g>
<g id="t-item8"><rect class="box" x="452.5" y="410.5" width="63" height="29"/><text class="nt" x="484" y="429.5">Item8</text></g>
<g id="t-item9"><rect class="box" x="456" y="490" width="63" height="29"/><text class="nt" x="487.5" y="509">Item9</text></g>
<g id="t-item10"><rect class="box" x="456.5" y="539" width="63" height="29"/><text class="nt" x="488" y="558">Item10</text></g>
<g id="t-item11"><rect class="box" x="456" y="585" width="63" height="29"/><text class="nt" x="487.5" y="604">Item11</text></g>
<g id="t-item12"><rect class="box" x="457" y="632.5" width="63" height="29"/><text class="nt" x="488.5" y="651.5">Item12</text></g>
<g id="t-item13"><rect class="box" x="458" y="679" width="63" height="29"/><text class="nt" x="489.5" y="698">Item13</text></g>
<g id="t-item14"><rect class="box" x="460" y="731" width="63" height="29"/><text class="nt" x="491.5" y="750">Item14</text></g>
<g id="t-e1"><ellipse class="err" cx="563" cy="43" rx="11" ry="10"/><text class="nt" x="563" y="47.5">e1</text></g>
<g id="t-e2"><ellipse class="err" cx="564.5" cy="97.5" rx="11" ry="10"/><text class="nt" x="564.5" y="102">e2</text></g>
<g id="t-e3"><ellipse class="err" cx="566.5" cy="155" rx="11" ry="10"/><text class="nt" x="566.5" y="159.5">e3</text></g>
<g id="t-e4"><ellipse class="err" cx="561" cy="228" rx="11" ry="10"/><text class="nt" x="561" y="232.5">e4</text></g>
<g id="t-e5"><ellipse class="err" cx="561" cy="276" rx="11" ry="10"/><text class="nt" x="561" y="280.5">e5</text></g>
<g id="t-e6"><ellipse class="err" cx="561" cy="328.5" rx="11" ry="10"/><text class="nt" x="561" y="333">e6</text></g>
<g id="t-e7"><ellipse class="err" cx="561" cy="374.5" rx="11" ry="10"/><text class="nt" x="561" y="379">e7</text></g>
<g id="t-e8"><ellipse class="err" cx="563.5" cy="425" rx="11" ry="10"/><text class="nt" x="563.5" y="429.5">e8</text></g>
<g id="t-e9"><ellipse class="err" cx="572.5" cy="505" rx="11.5" ry="10.5"/><text class="nt" x="572.5" y="509.5">e9</text></g>
<g id="t-e10"><ellipse class="err" cx="574.5" cy="554" rx="13" ry="12"/><text class="nt" x="574.5" y="558.5">e10</text></g>
<g id="t-e11"><ellipse class="err" cx="574.5" cy="600" rx="13" ry="12"/><text class="nt" x="574.5" y="604.5">e11</text></g>
<g id="t-e12"><ellipse class="err" cx="571" cy="646" rx="13" ry="12"/><text class="nt" x="571" y="650.5">e12</text></g>
<g id="t-e13"><ellipse class="err" cx="572" cy="693.5" rx="13" ry="12"/><text class="nt" x="572" y="698">e13</text></g>
<g id="t-e14"><ellipse class="err" cx="571" cy="745.5" rx="13" ry="12"/><text class="nt" x="571" y="750">e14</text></g>
<g id="t-labels">
<text class="w" x="406" y="70.5">,86</text><text class="w" x="412.5" y="103">,94</text><text class="w" x="429.5" y="137">,87</text>
<text class="w" x="406" y="277">,83</text><text class="w" x="406.5" y="305.5">,92</text><text class="w" x="412.5" y="334">,92</text><text class="w" x="428.5" y="363">,84</text><text class="w" x="428.5" y="394">,90</text>
<text class="w" x="406" y="559">,86</text><text class="w" x="413" y="580.5">,85</text><text class="w" x="415" y="608">,88</text><text class="w" x="433" y="638">,80</text><text class="w" x="433" y="668">,87</text><text class="w" x="430.5" y="699">,82</text>
<text class="w" x="75.5" y="374">,70</text><text class="w" x="171" y="240.5">,66</text><text class="w" x="149" y="491.5">,96</text>
<text class="w" x="595" y="128">-,96</text><text class="w" x="585" y="255">,16</text><text class="w" x="602.5" y="329">-,09</text><text class="w" x="619.5" y="352">-,35</text><text class="w" x="634" y="328">-,21</text>
<text class="w" x="604" y="533">-,09</text><text class="w" x="643.5" y="602">,02</text><text class="w" x="596" y="630.5">,31</text><text class="w" x="615" y="652">-,22</text><text class="w" x="629.5" y="677">-,45</text><text class="w" x="597.5" y="724">,09</text>
</g>
</g>

<text class="cap" x="13" y="1663" textLength="1310" lengthAdjust="spacingAndGlyphs"><tspan font-weight="bold">FIGURE 1</tspan><tspan font-weight="bold" fill="#555"> | </tspan>Multigroup Confirmatory Factor Analysis of the Italian version of the Sport MHC-SF scale: standardized regression weight estimates.</text>
</svg>
